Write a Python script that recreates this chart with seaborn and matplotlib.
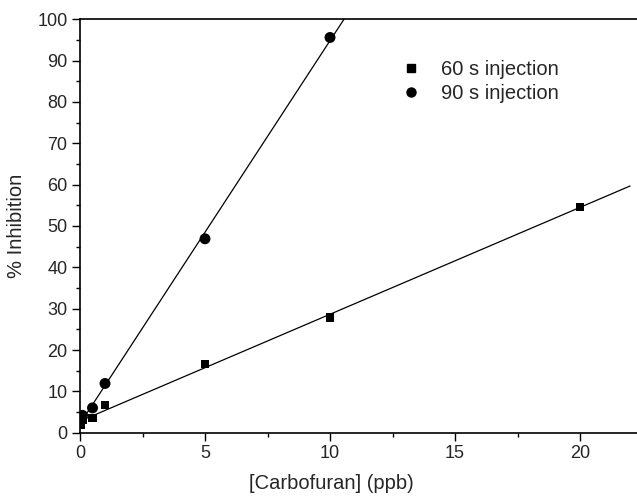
import numpy as np
import pandas as pd
import matplotlib
matplotlib.use("Agg")
import matplotlib.pyplot as plt
import seaborn as sns

# dados
conc_60 = [0.05, 0.1, 0.5, 1, 5, 10, 20]
inib_60 = [2.0, 3.0, 3.5, 6.7, 16.6, 27.9, 54.6]
conc_90 = [0.1, 0.5, 1, 5, 10]
inib_90 = [4.2, 6.0, 11.9, 46.9, 95.6]
series = ["60 s injection", "90 s injection"]

dados = pd.DataFrame({
    "conc": conc_60 + conc_90,
    "inib": inib_60 + inib_90,
    "serie": [series[0]] * len(conc_60) + [series[1]] * len(conc_90),
})

sns.set_style("ticks")
plt.rcParams["font.family"] = ["Liberation Sans", "DejaVu Sans"]

fig = plt.figure(figsize=(6.37, 4.97), dpi=100)
ax = fig.add_axes([0.1256, 0.1294, 0.8744, 0.8318])

# retas de ajuste linear
for s in series:
    d = dados[dados.serie == s]
    a, b = np.polyfit(d.conc, d.inib, 1)
    xs = np.array([0, 22])
    ax.plot(xs, a * xs + b, color="black", lw=0.9, zorder=1)

sns.scatterplot(data=dados[dados.serie == series[0]], x="conc", y="inib", marker="s",
                color="black", s=36, edgecolor="none", ax=ax, zorder=3)
sns.scatterplot(data=dados[dados.serie == series[1]], x="conc", y="inib", marker="o",
                color="black", s=62, edgecolor="none", ax=ax, zorder=3)

ax.set_xlim(0, 22.28)
ax.set_ylim(0, 100)
ax.set_xticks([0, 5, 10, 15, 20])
ax.set_xticks(np.arange(2.5, 22, 5), minor=True)
ax.set_yticks(np.arange(0, 101, 10))
ax.set_yticks(np.arange(5, 100, 10), minor=True)
ax.tick_params(which="major", direction="out", length=5.5, width=1, labelsize=13, color="black")
ax.tick_params(which="minor", direction="out", length=3, width=1, color="black")
for sp in ["left", "bottom", "top"]:
    ax.spines[sp].set_linewidth(1.2)
    ax.spines[sp].set_color("black")
ax.spines["right"].set_visible(False)

ax.set_xlabel("[Carbofuran] (ppb)", fontsize=14.5)
ax.set_ylabel("% Inhibition", fontsize=14.5)
ax.xaxis.set_label_coords(0.452, -0.1)
ax.yaxis.set_label_coords(-0.097, 0.5)

h1 = plt.Line2D([], [], marker="s", ls="", color="black", markersize=5.5)
h2 = plt.Line2D([], [], marker="o", ls="", color="black", markersize=6.5)
ax.legend([h1, h2], series, frameon=False, fontsize=14.5, loc="upper left",
          bbox_to_anchor=(0.525, 0.945), handletextpad=0.5, labelspacing=0.25)

plt.savefig("out.png", dpi=100)
